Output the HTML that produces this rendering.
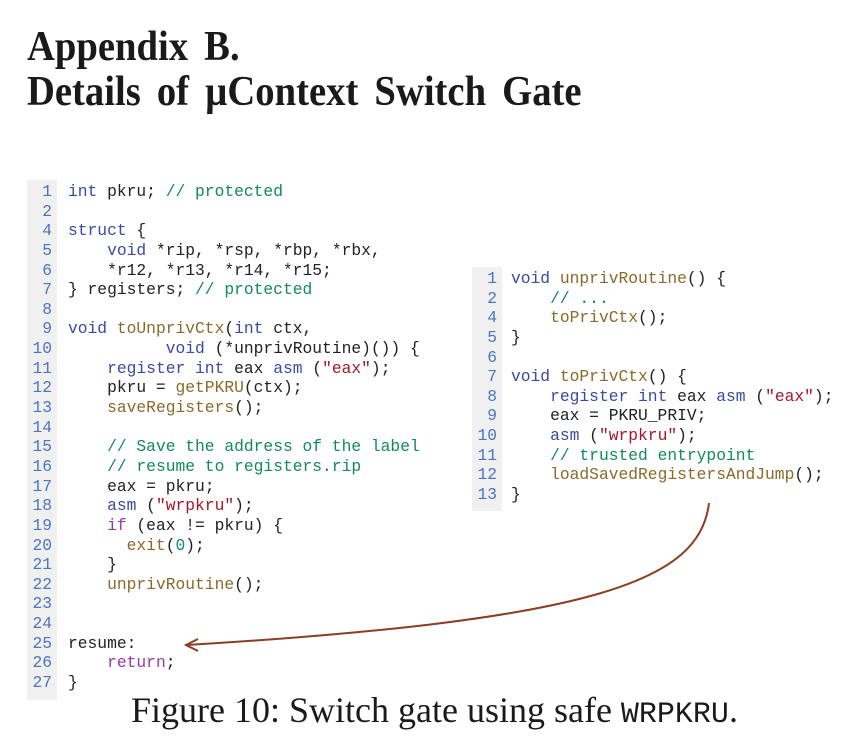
<!DOCTYPE html>
<html><head><meta charset="utf-8"><style>
body{margin:0;width:861px;height:755px;background:#fff;position:relative;overflow:hidden}
.t{position:absolute;left:27px;font-family:"Liberation Serif",serif;font-weight:bold;font-size:42px;color:#1a1a1a;margin:0;line-height:42px;white-space:nowrap;transform:scaleX(0.92);transform-origin:0 0;word-spacing:7px}
.box{position:absolute;font-family:"Liberation Mono",monospace;font-size:16.3px;line-height:19.64px;color:#222}
.g{position:absolute;left:0;top:0;bottom:0;width:30px;background:#f0f0f0}
.n{position:absolute;left:0;width:25px;text-align:right;color:#4a76c0;white-space:pre;margin:0;font:inherit}
.c{position:absolute;white-space:pre;margin:0;font:inherit}
.k{color:#3a4aa0}.f{color:#8a6a2a}.cm{color:#138a5a}.s{color:#a8162a}.p{color:#9a3aa8}.num{color:#138a7a}
.cap{position:absolute;top:692px;left:131px;font-family:"Liberation Serif",serif;font-size:36px;line-height:36px;color:#1a1a1a;white-space:nowrap}
.cap span{font-family:"Liberation Mono",monospace;font-size:30px}
</style></head><body>
<div class="t" style="top:26px">Appendix B.</div>
<div class="t" style="top:71px">Details of µContext Switch Gate</div>

<div class="box" style="left:27px;top:180px;width:400px;height:520px">
<div class="g"></div>
<pre class="n" style="top:2px">1
2
4
5
6
7
8
9
10
11
12
13
14
15
16
17
18
19
20
21
22
23
24
25
26
27</pre>
<pre class="c" style="left:41px;top:2px"><span class="k">int</span> pkru; <span class="cm">// protected</span>

<span class="k">struct</span> {
    <span class="k">void</span> *rip, *rsp, *rbp, *rbx,
    *r12, *r13, *r14, *r15;
} registers; <span class="cm">// protected</span>

<span class="k">void</span> <span class="f">toUnprivCtx</span>(<span class="k">int</span> ctx,
          <span class="k">void</span> (*unprivRoutine)()) {
    <span class="k">register int</span> eax <span class="k">asm</span> (<span class="s">"eax"</span>);
    pkru = <span class="f">getPKRU</span>(ctx);
    <span class="f">saveRegisters</span>();

    <span class="cm">// Save the address of the label</span>
    <span class="cm">// resume to registers.rip</span>
    eax = pkru;
    <span class="k">asm</span> (<span class="s">"wrpkru"</span>);
    <span class="p">if</span> (eax != pkru) {
      <span class="f">exit</span>(<span class="num">0</span>);
    }
    <span class="f">unprivRoutine</span>();


resume:
    <span class="p">return</span>;
}</pre>
</div>

<div class="box" style="left:472px;top:267px;width:370px;height:244px">
<div class="g"></div>
<pre class="n" style="top:2px">1
2
4
5
6
7
8
9
10
11
12
13</pre>
<pre class="c" style="left:39px;top:2px"><span class="k">void</span> <span class="f">unprivRoutine</span>() {
    <span class="cm">// ...</span>
    <span class="f">toPrivCtx</span>();
}

<span class="k">void</span> <span class="f">toPrivCtx</span>() {
    <span class="k">register int</span> eax <span class="k">asm</span> (<span class="s">"eax"</span>);
    eax = PKRU_PRIV;
    <span class="k">asm</span> (<span class="s">"wrpkru"</span>);
    <span class="cm">// trusted entrypoint</span>
    <span class="f">loadSavedRegistersAndJump</span>();
}</pre>
</div>

<svg style="position:absolute;left:0;top:0" width="861" height="755">
<path d="M709,503 C700,580 600,620 187,645" fill="none" stroke="#8b3e22" stroke-width="2"/>
<path d="M198,639 L186,645 L198,651" fill="none" stroke="#8b3e22" stroke-width="2"/>
</svg>

<div class="cap">Figure 10: Switch gate using safe <span>WRPKRU</span>.</div>
</body></html>
